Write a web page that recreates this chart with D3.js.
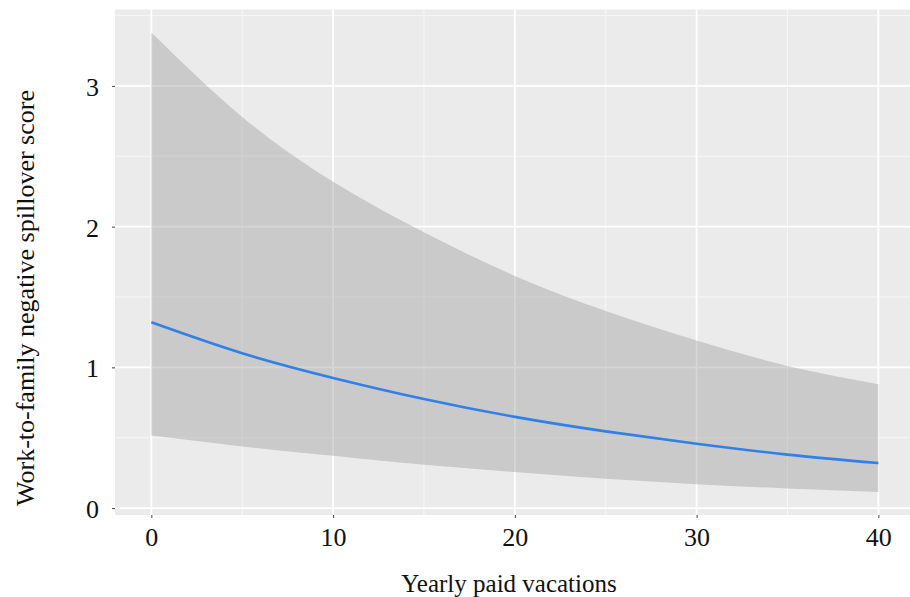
<!DOCTYPE html>
<html>
<head>
<meta charset="utf-8">
<script src="https://cdn.jsdelivr.net/npm/d3@7"></script>
<style>
  body { margin: 0; background: #fff; }
  text { font-family: "Liberation Serif", "DejaVu Serif", serif; fill: #111; }
</style>
</head>
<body>
<div id="chart"></div>
<script>
// yearly paid vacations (x) and model fit with confidence band
const vacations = [0, 5, 10, 15, 20, 25, 30, 35, 40];
const fitted    = [1.32, 1.10, 0.925, 0.775, 0.648, 0.545, 0.457, 0.38, 0.32];
const upperCI   = [3.38, 2.78, 2.32, 1.96, 1.65, 1.40, 1.19, 1.01, 0.88];
const lowerCI   = [0.515, 0.438, 0.371, 0.307, 0.256, 0.208, 0.170, 0.139, 0.114];

const xMajor = [0, 10, 20, 30, 40];
const xMinor = [5, 15, 25, 35];
const yMajor = [0, 1, 2, 3];
const yMinor = [0.5, 1.5, 2.5, 3.5];

const xTitle = "Yearly paid vacations";
const yTitle = "Work-to-family negative spillover score";

const width = 910, height = 597;
const panel = { left: 115, right: 914.7, top: 9.5, bottom: 515 };

const rows = vacations.map((v, i) => ({ x: v, y: fitted[i], lo: lowerCI[i], hi: upperCI[i] }));

// ggplot style 5% expansion
const xExt = d3.extent(vacations);
const xPad = (xExt[1] - xExt[0]) * 0.05;
const yExt = [d3.min(lowerCI), d3.max(upperCI)];
const yPad = (yExt[1] - yExt[0]) * 0.05;

const x = d3.scaleLinear()
  .domain([xExt[0] - xPad, xExt[1] + xPad])
  .range([panel.left, panel.right]);
const y = d3.scaleLinear()
  .domain([yExt[0] - yPad, yExt[1] + yPad])
  .range([panel.bottom, panel.top]);

const svg = d3.select("#chart").append("svg")
  .attr("width", width)
  .attr("height", height);

svg.append("rect")
  .attr("x", panel.left).attr("y", panel.top)
  .attr("width", panel.right - panel.left)
  .attr("height", panel.bottom - panel.top)
  .attr("fill", "#ebebeb");

const grid = svg.append("g");
grid.selectAll(".vmin").data(xMinor).enter().append("line")
  .attr("x1", d => x(d)).attr("x2", d => x(d))
  .attr("y1", panel.top).attr("y2", panel.bottom)
  .attr("stroke", "#f7f7f7").attr("stroke-width", 1);
grid.selectAll(".hmin").data(yMinor).enter().append("line")
  .attr("y1", d => y(d)).attr("y2", d => y(d))
  .attr("x1", panel.left).attr("x2", panel.right)
  .attr("stroke", "#f7f7f7").attr("stroke-width", 1);
grid.selectAll(".vmaj").data(xMajor).enter().append("line")
  .attr("x1", d => x(d)).attr("x2", d => x(d))
  .attr("y1", panel.top).attr("y2", panel.bottom)
  .attr("stroke", "#fff").attr("stroke-width", 1.8);
grid.selectAll(".hmaj").data(yMajor).enter().append("line")
  .attr("y1", d => y(d)).attr("y2", d => y(d))
  .attr("x1", panel.left).attr("x2", panel.right)
  .attr("stroke", "#fff").attr("stroke-width", 1.8);

const band = d3.area()
  .x(d => x(d.x))
  .y0(d => y(d.lo))
  .y1(d => y(d.hi))
  .curve(d3.curveNatural);

svg.append("path")
  .datum(rows)
  .attr("d", band)
  .attr("fill", "#999")
  .attr("fill-opacity", 0.4);

const line = d3.line()
  .x(d => x(d.x))
  .y(d => y(d.y))
  .curve(d3.curveNatural);

svg.append("path")
  .datum(rows)
  .attr("d", line)
  .attr("fill", "none")
  .attr("stroke", "#3180e8")
  .attr("stroke-width", 2.6);

// axes
const xAxis = svg.append("g")
  .attr("transform", "translate(0," + panel.bottom + ")")
  .call(d3.axisBottom(x).tickValues(xMajor).tickSize(3).tickPadding(10));
const yAxis = svg.append("g")
  .attr("transform", "translate(" + panel.left + ",0)")
  .call(d3.axisLeft(y).tickValues(yMajor).tickFormat(d3.format("d")).tickSize(3).tickPadding(13));

[xAxis, yAxis].forEach(a => {
  a.select(".domain").remove();
  a.selectAll(".tick line").attr("stroke", "#444");
  a.selectAll(".tick text")
    .style("font-family", "Liberation Serif, serif")
    .style("font-size", "26px")
    .attr("fill", "#111");
});
yAxis.selectAll(".tick text").attr("dy", "0.36em");

svg.append("text")
  .attr("x", 509)
  .attr("y", 592)
  .attr("text-anchor", "middle")
  .style("font-size", "25px")
  .text(xTitle);

svg.append("text")
  .attr("transform", "translate(34,298) rotate(-90)")
  .attr("text-anchor", "middle")
  .style("font-size", "26px")
  .text(yTitle);
</script>
</body>
</html>
